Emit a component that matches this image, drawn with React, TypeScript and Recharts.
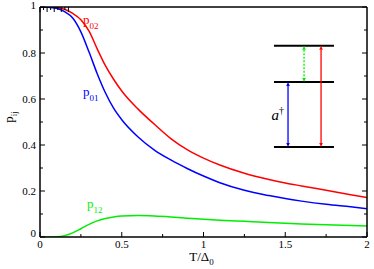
import { LineChart, Line, XAxis, YAxis, ReferenceLine, ReferenceDot } from "recharts";

const FONT = "'Times New Roman', 'Liberation Serif', Times, serif";

// T / Delta_0 sample points
const tValues = [0, 0.05, 0.1, 0.15, 0.2, 0.25, 0.3, 0.35, 0.4, 0.45, 0.5, 0.6, 0.7, 0.8, 0.9, 1.0, 1.1, 1.25, 1.4, 1.5, 1.6, 1.75, 1.9, 2.0];
const p02Values = [1, 1, 0.998, 0.99, 0.972, 0.945, 0.895, 0.818, 0.745, 0.686, 0.635, 0.556, 0.49, 0.428, 0.38, 0.343, 0.313, 0.277, 0.25, 0.235, 0.222, 0.203, 0.184, 0.172];
const p01Values = [1, 0.999, 0.995, 0.98, 0.952, 0.892, 0.804, 0.71, 0.627, 0.56, 0.51, 0.435, 0.378, 0.335, 0.298, 0.265, 0.236, 0.203, 0.18, 0.167, 0.156, 0.142, 0.131, 0.123];
const p12Values = [0, 0, 0.001, 0.006, 0.018, 0.036, 0.055, 0.07, 0.08, 0.087, 0.091, 0.093, 0.091, 0.087, 0.082, 0.077, 0.073, 0.068, 0.063, 0.06, 0.057, 0.053, 0.05, 0.048];

const xTicks = [0, 0.25, 0.5, 0.75, 1, 1.25, 1.5, 1.75, 2];
const yTicks = [0, 0.1, 0.2, 0.3, 0.4, 0.5, 0.6, 0.7, 0.8, 0.9, 1];

// inset: energy levels and transitions
const levelXs = [1.431, 1.798];
const levelYs = [0.832, 0.674, 0.391];
const blueArrowX = 1.517;
const greenArrowX = 1.615;
const redArrowX = 1.719;

const data = tValues.map((t, i) => ({
  t,
  p02: p02Values[i],
  p01: p01Values[i],
  p12: p12Values[i],
}));

const txt = { fontFamily: FONT };

const isMajor = (v: number, step: number) => Math.abs(v / step - Math.round(v / step)) < 1e-6;
const fmt = (v: number) => String(Math.round(v * 100) / 100);

const BottomTick = (props: any) => {
  const { x, y, payload } = props;
  const major = isMajor(payload.value, 0.5);
  return (
    <g>
      <line x1={x} x2={x} y1={y} y2={y - (major ? 5 : 3)} stroke="#000" strokeWidth={1} />
      {major && (
        <text x={x} y={y + 11} textAnchor="middle" style={txt} fontSize={11} fill="#000">
          {fmt(payload.value)}
        </text>
      )}
    </g>
  );
};

const TopTick = (props: any) => {
  const { x, y, payload } = props;
  const major = isMajor(payload.value, 0.5);
  return <line x1={x} x2={x} y1={y} y2={y + (major ? 5 : 3)} stroke="#000" strokeWidth={1} />;
};

const LeftTick = (props: any) => {
  const { x, y, payload } = props;
  const v = payload.value;
  const major = isMajor(v, 0.2);
  const dy = v === 0 ? 0 : v === 1 ? 2 : 4;
  return (
    <g>
      <line x1={x} x2={x + (major ? 5 : 3)} y1={y} y2={y} stroke="#000" strokeWidth={1} />
      {major && (
        <text x={x - 4} y={y + dy} textAnchor="end" style={txt} fontSize={11} fill="#000">
          {fmt(v)}
        </text>
      )}
    </g>
  );
};

const RightTick = (props: any) => {
  const { x, y, payload } = props;
  const major = isMajor(payload.value, 0.2);
  return <line x1={x} x2={x - (major ? 5 : 3)} y1={y} y2={y} stroke="#000" strokeWidth={1} />;
};

const subLabel = (main: string, sub: string, color: string) => (props: any) => (
  <text x={props.cx} y={props.cy} style={txt} fontSize={13} fill={color}>
    {main}
    <tspan fontSize={9} dy={5}>{sub}</tspan>
  </text>
);

const arrowShape = (dashed: boolean) => (props: any) => {
  const { x1, y1, x2, y2, stroke } = props;
  const h = 4;
  const w = 1.8;
  const dir = Math.sign(y2 - y1) || 1;
  return (
    <g>
      <line
        x1={x1}
        y1={y1 + dir * h}
        x2={x2}
        y2={y2 - dir * h}
        stroke={stroke}
        strokeWidth={1.3}
        strokeDasharray={dashed ? "2 1.5" : undefined}
      />
      <polygon points={`${x1},${y1} ${x1 - w},${y1 + dir * h} ${x1 + w},${y1 + dir * h}`} fill={stroke} />
      <polygon points={`${x2},${y2} ${x2 - w},${y2 - dir * h} ${x2 + w},${y2 - dir * h}`} fill={stroke} />
    </g>
  );
};

export default function App() {
  return (
    <div style={{ position: "absolute", left: 0, top: 0, background: "#fff" }}>
      <LineChart width={374} height={269} data={data} margin={{ top: 0, right: 0, bottom: 12, left: 0 }}>
        <XAxis
          dataKey="t"
          type="number"
          domain={[0, 2]}
          allowDataOverflow
          ticks={xTicks}
          interval={0}
          height={20}
          tickSize={0}
          tickMargin={0}
          tickLine={false}
          axisLine={{ stroke: "#000", strokeWidth: 1.5 }}
          tick={<BottomTick />}
          label={(p: any) => (
            <text
              x={p.viewBox.x + p.viewBox.width / 2 - 2}
              y={p.viewBox.y + 23.5}
              textAnchor="middle"
              style={txt}
              fontSize={13}
              fill="#000"
            >
              T/Δ<tspan fontSize={9} dy={4}>0</tspan>
            </text>
          )}
        />
        <XAxis
          xAxisId="top"
          orientation="top"
          type="number"
          domain={[0, 2]}
          allowDataOverflow
          ticks={xTicks}
          interval={0}
          height={7}
          tickSize={0}
          tickMargin={0}
          tickLine={false}
          axisLine={{ stroke: "#000", strokeWidth: 1.5 }}
          tick={<TopTick />}
        />
        <YAxis
          type="number"
          domain={[0, 1]}
          allowDataOverflow
          ticks={yTicks}
          interval={0}
          width={40}
          tickSize={0}
          tickMargin={0}
          tickLine={false}
          axisLine={{ stroke: "#000", strokeWidth: 1.5 }}
          tick={<LeftTick />}
          label={(p: any) => (
            <text
              transform={`translate(13, ${p.viewBox.y + 110}) rotate(-90)`}
              textAnchor="middle"
              style={txt}
              fontSize={13}
              fill="#000"
            >
              p<tspan fontSize={9} dy={4}>ij</tspan>
            </text>
          )}
        />
        <YAxis
          yAxisId="right"
          orientation="right"
          type="number"
          domain={[0, 1]}
          allowDataOverflow
          ticks={yTicks}
          interval={0}
          width={7}
          tickSize={0}
          tickMargin={0}
          tickLine={false}
          axisLine={{ stroke: "#000", strokeWidth: 1.5 }}
          tick={<RightTick />}
        />

        <Line type="monotone" dataKey="p02" stroke="#ff0000" strokeWidth={1.5} dot={false} isAnimationActive={false} />
        <Line type="monotone" dataKey="p01" stroke="#0000ff" strokeWidth={1.5} dot={false} isAnimationActive={false} />
        <Line type="monotone" dataKey="p12" stroke="#00ee00" strokeWidth={1.5} dot={false} isAnimationActive={false} />

        <ReferenceDot x={0.263} y={0.928} r={0} shape={subLabel("p", "02", "#ff0000")} />
        <ReferenceDot x={0.263} y={0.611} r={0} shape={subLabel("p", "01", "#0000ff")} />
        <ReferenceDot x={0.287} y={0.126} r={0} shape={subLabel("p", "12", "#00ee00")} />

        {levelYs.map((ly) => (
          <ReferenceLine
            key={ly}
            segment={[
              { x: levelXs[0], y: ly },
              { x: levelXs[1], y: ly },
            ]}
            stroke="#000"
            strokeWidth={2}
          />
        ))}
        <ReferenceLine
          segment={[
            { x: blueArrowX, y: levelYs[1] },
            { x: blueArrowX, y: levelYs[2] },
          ]}
          stroke="#0000ff"
          shape={arrowShape(false)}
        />
        <ReferenceLine
          segment={[
            { x: greenArrowX, y: levelYs[0] },
            { x: greenArrowX, y: levelYs[1] },
          ]}
          stroke="#00ee00"
          shape={arrowShape(true)}
        />
        <ReferenceLine
          segment={[
            { x: redArrowX, y: levelYs[0] },
            { x: redArrowX, y: levelYs[2] },
          ]}
          stroke="#ff0000"
          shape={arrowShape(false)}
        />
        <ReferenceDot
          x={1.416}
          y={0.509}
          r={0}
          shape={(p: any) => (
            <text x={p.cx} y={p.cy} style={{ ...txt, fontStyle: "italic" }} fontSize={15} fill="#000">
              a<tspan fontSize={10} dy={-6} style={{ fontStyle: "normal" }}>†</tspan>
            </text>
          )}
        />
      </LineChart>
    </div>
  );
}
